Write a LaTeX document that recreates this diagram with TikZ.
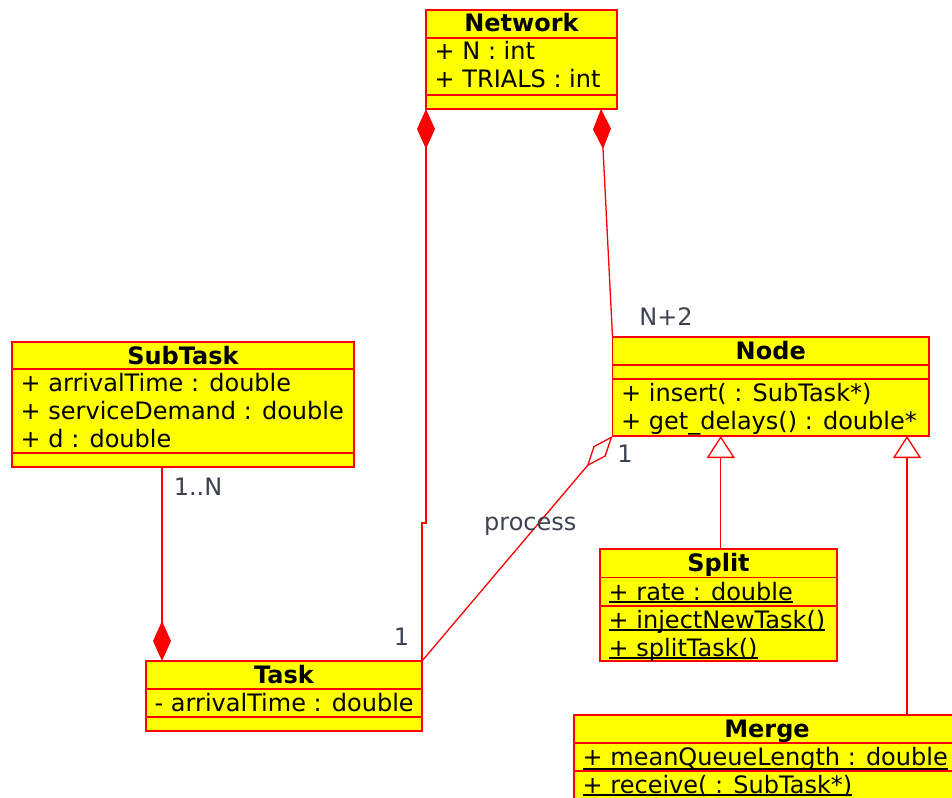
\documentclass[tikz,border=0pt]{standalone}
\usepackage{fontspec}
\setmainfont{DejaVu Sans}
\usetikzlibrary{arrows.meta,calc}

\definecolor{umlyellow}{RGB}{255,255,0}
\definecolor{umlred}{RGB}{255,0,0}
\definecolor{labelgray}{RGB}{60,66,80}

% a member row: name, box, baseline offset from the box top, text
\newcommand\umlrow[4]{\node[member] (#1) at ([xshift=8.5pt,yshift=-#3pt]#2.north west) {#4};}
% an underlined (static) member row; #5 = underline offset below baseline
\newcommand\umlurow[5]{\umlrow{#1}{#2}{#3}{#4}%
  \draw[uline] ([yshift=-#5pt]#1.base west) -- ([yshift=-#5pt]#1.base east);}
% a compartment separator at an offset from the box top
\newcommand\umlsep[2]{\draw[sepline] ([yshift=-#2pt]#1.north west) -- ([yshift=-#2pt]#1.north east);}
% the class name, centred in the header
\newcommand\umltitle[3]{\node[title] (#1) at ([yshift=-22pt]#2.north) {#3};}

\begin{document}
\begin{tikzpicture}[x=1pt,y=-1pt,
  classbox/.style={draw=umlred, fill=umlyellow, line width=1.5pt, anchor=north west,
    inner sep=0pt, outer sep=0pt},
  sepline/.style={draw=umlred, line width=1.5pt},
  title/.style={anchor=base, inner sep=0pt, font=\fontsize{24}{28}\selectfont\bfseries},
  member/.style={anchor=base west, inner sep=0pt, font=\fontsize{24}{28}\selectfont},
  uline/.style={draw=black, line width=2pt},
  mult/.style={anchor=base, inner sep=0pt, text=labelgray, font=\fontsize{24}{28}\selectfont},
  conn/.style={draw=umlred, line width=1.3pt},
  comp/.style={conn, {Diamond[length=40pt,width=18pt]}-},
  compend/.style={conn, -{Diamond[length=40pt,width=18pt]}},
  aggr/.style={conn, -{Diamond[open,length=40pt,width=16pt]}},
  gen/.style={conn, -{Triangle[open,length=22pt,width=28pt]}},
]
\useasboundingbox (0,0) rectangle (952,797);
\clip (0,0) rectangle (952,797);

% Network
\node[classbox, minimum width=191pt, minimum height=99pt] (network) at (426,10) {};
\umlsep{network}{28}
\umlsep{network}{85}
\umltitle{network-name}{network}{Network}
\umlrow{network-n}{network}{50}{+ N : int}
\umlrow{network-trials}{network}{78}{+ TRIALS : int}

% SubTask
\node[classbox, minimum width=342pt, minimum height=125pt] (subtask) at (12,342) {};
\umlsep{subtask}{27}
\umlsep{subtask}{111}
\umltitle{subtask-name}{subtask}{SubTask}
\umlrow{subtask-a1}{subtask}{49}{+ arrivalTime : double}
\umlrow{subtask-a2}{subtask}{77}{+ serviceDemand : double}
\umlrow{subtask-a3}{subtask}{105}{+ d : double}

% Node
\node[classbox, minimum width=316.5pt, minimum height=99pt] (node) at (612.5,337) {};
\umlsep{node}{28}
\umlsep{node}{42}
\umltitle{node-name}{node}{Node}
\umlrow{node-o1}{node}{64}{+ insert( : SubTask*)}
\umlrow{node-o2}{node}{92}{+ get\_delays() : double*}

% Split
\node[classbox, minimum width=237pt, minimum height=112pt] (split) at (600,549) {};
\umlsep{split}{28.5}
\umlsep{split}{57}
\umltitle{split-name}{split}{Split}
\umlurow{split-a1}{split}{51}{+ rate : double}{2}
\umlurow{split-o1}{split}{79}{+ injectNewTask()}{2}
\umlurow{split-o2}{split}{107}{+ splitTask()}{2}

% Task
\node[classbox, minimum width=276pt, minimum height=70pt] (task) at (146,661) {};
\umlsep{task}{28}
\umlsep{task}{56}
\umltitle{task-name}{task}{Task}
\umlrow{task-a1}{task}{50}{- arrivalTime : double}

% Merge
\node[classbox, minimum width=386pt, minimum height=120pt] (merge) at (574,715) {};
\umlsep{merge}{28}
\umlsep{merge}{56}
\umltitle{merge-name}{merge}{Merge}
\umlurow{merge-a1}{merge}{50}{+ meanQueueLength : double}{4}
\umlurow{merge-o1}{merge}{78}{+ receive( : SubTask*)}{2}

% Network -- Task composition
\coordinate (jogA) at ($(network.south west)!0.75!(network.south west |- task.north)$);
\coordinate (jogB) at (jogA -| task.north east);
\draw[comp] (network.south west) -- (jogA) -- (jogB) -- (task.north east);

% Network -- Node composition
\coordinate (netR) at ([xshift=-16pt]network.south east);
\draw[comp] (netR) -- (node.north west);

% SubTask -- Task composition
\coordinate (stDown) at ([xshift=150pt]subtask.south west);
\draw[compend] (stDown) -- (stDown |- task.north);

% Task -- Node association "process"
\draw[aggr] (task.north east) -- node[mult, anchor=center, pos=0.6, xshift=-6pt] (process) {process} (node.south west);

% Node generalizations
\coordinate (genS) at ([xshift=-50pt]node.south);
\draw[gen] (genS |- split.north) -- (genS);
\coordinate (genM) at ([xshift=-22pt]node.south east);
\draw[gen] (genM |- merge.north) -- (genM);

% multiplicities
\node[mult] (m-n2) at (666,325) {N+2};
\node[mult] (m-node1) at (625,462) {1};
\node[mult] (m-task1) at (401.5,645) {1};
\node[mult] (m-1n) at (198,495) {1..N};
\end{tikzpicture}
\end{document}
